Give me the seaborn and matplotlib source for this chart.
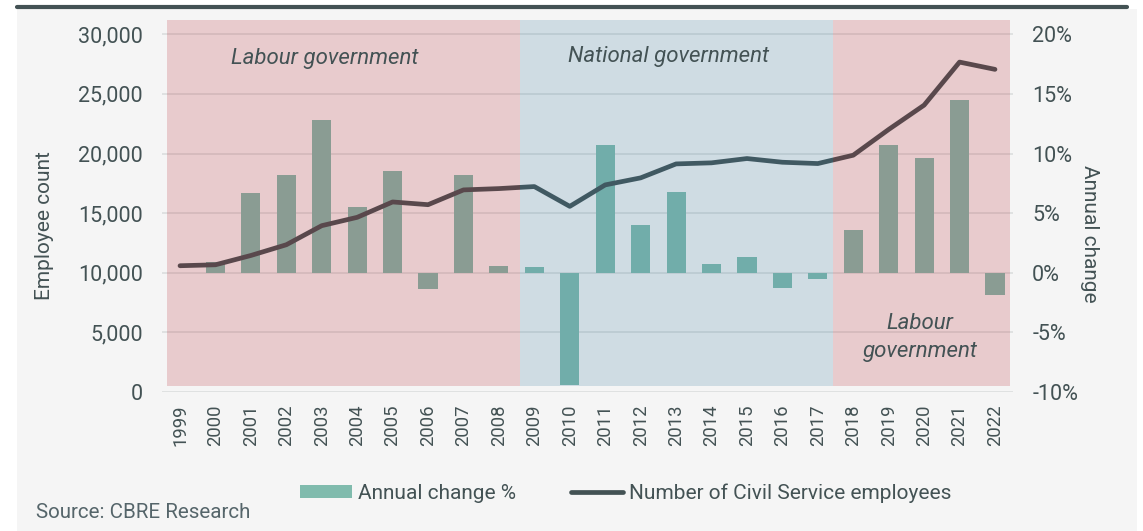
import numpy as np
import pandas as pd
import matplotlib
matplotlib.use("Agg")
import matplotlib.pyplot as plt
import seaborn as sns
from matplotlib.patches import Rectangle, Patch
from matplotlib.lines import Line2D
from matplotlib.ticker import FuncFormatter, FixedLocator

# ---- data -------------------------------------------------------------
years = [str(y) for y in range(1999, 2023)]
employees = [10590, 10670, 11450, 12350, 13950, 14650, 15940, 15710,
             16950, 17060, 17230, 15570, 17370, 17960, 19130, 19220,
             19580, 19270, 19160, 19860, 22020, 24060, 27670, 27060]
annual_change = [np.nan, 0.9, 6.7, 8.2, 12.8, 5.5, 8.5, -1.4,
                 8.2, 0.6, 0.45, -9.4, 10.7, 4.0, 6.8, 0.7,
                 1.35, -1.3, -0.5, 3.6, 10.7, 9.6, 14.5, -1.9]

# governing periods on the year-index scale
period_start = [-0.375, 9.6, 18.44]
period_end = [9.6, 18.44, 23.43]
period_party = ["Labour", "National", "Labour"]
period_labels = ["Labour government", "National government", "Labour\ngovernment"]

emp_ticks = [0, 5000, 10000, 15000, 20000, 25000, 30000]
pct_ticks = [-10, -5, 0, 5, 10, 15, 20]

# ---- styling ------------------------------------------------------------
DARK = "#435254"
CELADON = "#80bbad"
PANEL = "#f5f5f5"
GRID = "#d9dcdc"
party_colour = {"Labour": "#b4232d", "National": "#37789f"}

sns.set_style("white")
plt.rcParams["font.family"] = ["Roboto", "DejaVu Sans"]
plt.rcParams["text.color"] = DARK
plt.rcParams["axes.labelcolor"] = DARK
plt.rcParams["xtick.color"] = DARK
plt.rcParams["ytick.color"] = DARK

W, H = 1143, 531
fig = plt.figure(figsize=(W / 100, H / 100), dpi=100, facecolor="white")

# grey panel and top rule
fig.add_artist(Rectangle((17 / W, 0), (1137 - 17) / W, (531 - 9) / H,
                         transform=fig.transFigure, facecolor=PANEL,
                         edgecolor="none", zorder=-5))
fig.add_artist(Line2D([17 / W, 1127 / W], [1 - 7 / H, 1 - 7 / H],
                      transform=fig.transFigure, color=DARK, lw=3.0))

ax_bar = fig.add_axes([162.3 / W, (531 - 392) / H, 850.4 / W, 372 / H])
ax_bar.set_facecolor("none")

df = pd.DataFrame({"year": years, "pos": np.arange(len(years)),
                   "employees": employees, "change": annual_change})

# annual change bars (right-hand scale)
sns.barplot(data=df, x="year", y="change", order=years, ax=ax_bar,
            color=CELADON, saturation=1, width=0.54, edgecolor="none",
            errorbar=None, zorder=2)

ax_line = ax_bar.twinx()
ax_line.set_facecolor("none")

# employee count line (left-hand scale)
sns.lineplot(data=df, x="pos", y="employees", ax=ax_line, color=DARK,
             lw=3.4, zorder=3, solid_capstyle="round", solid_joinstyle="round")

# limits
ax_bar.set_xlim(-0.5, 23.5)
ax_line.set_xlim(-0.5, 23.5)
ax_bar.set_ylim(-10, 21.2)
ax_line.set_ylim(0, 31200)

# party shading over everything
for s, e, p in zip(period_start, period_end, period_party):
    ax_line.axvspan(s, e, ymin=0.017, ymax=1, color=party_colour[p],
                    alpha=0.2, lw=0, zorder=5)

# period labels
lab_kw = dict(ha="center", va="center", fontsize=16, style="italic",
              color=DARK, zorder=10)
ax_line.text(4.09, 27950, period_labels[0], **lab_kw)
ax_line.text(13.79, 28150, period_labels[1], **lab_kw)
ax_line.text(20.89, 4570, period_labels[2], linespacing=1.45, **lab_kw)

# axes: ticks on swapped sides
ax_bar.yaxis.tick_right()
ax_line.yaxis.tick_left()
ax_bar.yaxis.set_major_locator(FixedLocator(pct_ticks))
ax_bar.yaxis.set_major_formatter(FuncFormatter(lambda v, _: f"{int(round(v))}%"))
ax_line.yaxis.set_major_locator(FixedLocator(emp_ticks))
ax_line.yaxis.set_major_formatter(FuncFormatter(lambda v, _: f"{int(v):,}"))

ax_bar.grid(axis="y", color=GRID, lw=1.1)
ax_bar.grid(axis="x", visible=False)
ax_line.grid(False)
ax_bar.set_axisbelow(True)

ax_bar.tick_params(axis="y", length=0, pad=14, labelsize=15.5)
ax_line.tick_params(axis="y", length=0, pad=14, labelsize=15.5)
ax_bar.tick_params(axis="x", length=0, pad=9, labelsize=13.3, rotation=90)
ax_line.tick_params(axis="x", length=0)

for a in (ax_bar, ax_line):
    for sp in a.spines.values():
        sp.set_visible(False)
    a.set_xlabel("")
    a.set_ylabel("")

fig.text(45 / W, 1 - 226 / H, "Employee count", rotation=90,
         ha="center", va="center", fontsize=15, color=DARK)
fig.text(1089 / W, 1 - 234 / H, "Annual change", rotation=270,
         ha="center", va="center", fontsize=15, color=DARK)

# legend
handles = [Patch(facecolor=CELADON, edgecolor="none"),
           Line2D([0], [0], color=DARK, lw=3.4, solid_capstyle="round")]
fig.legend(handles, ["Annual change %", "Number of Civil Service employees"],
           loc="center left", bbox_to_anchor=(300 / W, 1 - 493 / H),
           ncol=2, frameon=False, fontsize=15, handlelength=2.5,
           handleheight=0.55, handletextpad=0.3, columnspacing=2.6,
           borderpad=0, borderaxespad=0)

fig.text(36 / W, 1 - 512 / H, "Source: CBRE Research", ha="left",
         va="center", fontsize=14.8, color="#55656a")

fig.savefig("out.png", dpi=100, facecolor=fig.get_facecolor())
